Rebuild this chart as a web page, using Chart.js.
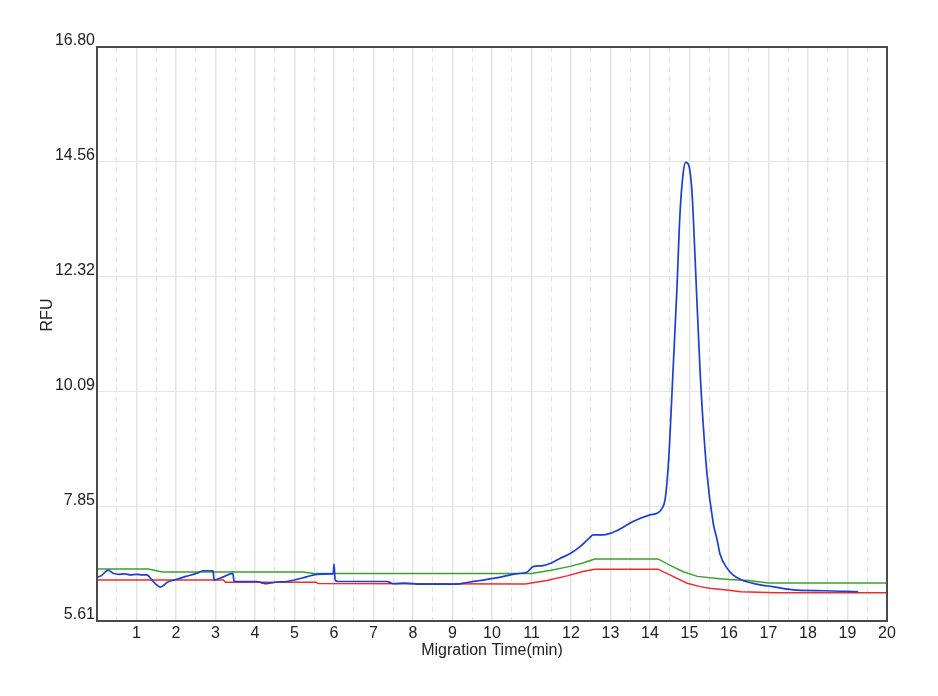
<!DOCTYPE html>
<html lang="en">
<head>
    <meta charset="UTF-8">
    <title>RFU vs Migration Time</title>
    <script src="https://cdn.jsdelivr.net/npm/chart.js"></script>
    <style>
        body { margin: 0; background: #fff; }
    </style>
</head>
<body>
    <canvas id="rfuChart" width="938" height="696"></canvas>

    <script>
        // tick labels
        const yTicks = [5.61, 7.85, 10.09, 12.32, 14.56, 16.80];

        // blue trace
        const blueX = [0, 0.12, 0.28, 0.41, 0.55, 0.7, 0.85, 1.0, 1.15, 1.26, 1.39, 1.5, 1.6, 1.68, 1.77, 2.0, 2.25, 2.53, 2.68, 2.94,
            2.96, 3.2, 3.44, 3.47, 3.6, 4.05, 4.2, 4.3, 4.56, 4.8, 5.06, 5.3, 5.57, 5.95, 5.98, 6.0, 6.03, 6.1, 6.5, 7.0,
            7.34, 7.45, 7.5, 7.8, 8.2, 8.6, 9.1, 9.37, 9.7, 10.03, 10.3, 10.6, 10.88, 11.04, 11.29, 11.5, 11.72, 11.97, 12.23, 12.48,
            12.56, 12.81, 13.16, 13.57, 14.0, 14.18, 14.3, 14.38, 14.45, 14.5, 14.58, 14.68, 14.76, 14.84, 14.9, 14.96, 15.06, 15.14, 15.27, 15.44,
            15.6, 15.7, 15.77, 15.95, 16.1, 16.35, 16.7, 17.1, 17.72, 18.39, 19.27];
        const blueY = [6.46, 6.50, 6.60, 6.54, 6.52, 6.53, 6.51, 6.52, 6.51, 6.51, 6.41, 6.32, 6.27, 6.30, 6.36, 6.42, 6.48, 6.54, 6.59, 6.59,
            6.41, 6.47, 6.54, 6.38, 6.38, 6.38, 6.35, 6.34, 6.37, 6.38, 6.42, 6.47, 6.52, 6.53, 6.53, 6.72, 6.41, 6.38, 6.38, 6.38,
            6.38, 6.35, 6.34, 6.35, 6.33, 6.33, 6.33, 6.36, 6.40, 6.44, 6.48, 6.53, 6.56, 6.67, 6.69, 6.74, 6.83, 6.92, 7.06, 7.24,
            7.29, 7.29, 7.37, 7.55, 7.68, 7.71, 7.80, 7.97, 8.50, 9.14, 10.44, 12.06, 13.56, 14.34, 14.55, 14.53, 14.01, 12.71, 10.44, 8.50,
            7.52, 7.19, 6.92, 6.64, 6.51, 6.40, 6.33, 6.28, 6.21, 6.20, 6.18];

        // green trace
        const greenX = [0, 1.3, 1.65, 5.2, 5.5, 11.0, 11.5, 12.0, 12.3, 12.6, 14.2, 14.5, 14.84, 15.2, 15.7, 16.0, 16.5, 17.0, 20];
        const greenY = [6.625, 6.625, 6.566, 6.566, 6.537, 6.537, 6.60, 6.68, 6.74, 6.82, 6.82, 6.70, 6.57, 6.48, 6.44, 6.42, 6.40, 6.35, 6.35];

        // red trace
        const redX = [0, 3.2, 3.25, 5.55, 5.6, 10.84, 11.39, 11.9, 12.3, 12.6, 14.2, 14.5, 14.94, 15.27, 15.5, 16.0, 16.3, 17.2, 20];
        const redY = [6.41, 6.41, 6.365, 6.365, 6.34, 6.33, 6.40, 6.49, 6.575, 6.62, 6.62, 6.51, 6.345, 6.28, 6.25, 6.21, 6.18, 6.16, 6.16];

        const toPoints = (xs, ys) => xs.map((x, i) => ({ x: x, y: ys[i] }));
        const FONT = "'Liberation Sans', Arial, sans-serif";

        // 테두리 박스 + RFU 제목
        const framePlugin = {
            id: 'frame',
            afterDraw(chart) {
                const { ctx, chartArea: a } = chart;
                ctx.save();
                ctx.strokeStyle = '#4a4a4a';
                ctx.lineWidth = 2;
                ctx.strokeRect(a.left, a.top, a.right - a.left, a.bottom - a.top);
                ctx.translate(48, 315);
                ctx.rotate(-Math.PI / 2);
                ctx.fillStyle = '#222';
                ctx.font = "16px " + FONT;
                ctx.textAlign = 'center';
                ctx.textBaseline = 'middle';
                ctx.fillText('RFU', 0, 0);
                ctx.restore();
            }
        };

        new Chart(document.getElementById('rfuChart').getContext('2d'), {
            type: 'line',
            data: {
                datasets: [
                    { label: 'Blue', data: toPoints(blueX, blueY), borderColor: '#1d3ed2', borderWidth: 1.7, cubicInterpolationMode: 'monotone' },
                    { label: 'Green', data: toPoints(greenX, greenY), borderColor: '#3f9f2f', borderWidth: 1.5 },
                    { label: 'Red', data: toPoints(redX, redY), borderColor: '#f02b2b', borderWidth: 1.5 }
                ]
            },
            options: {
                responsive: false,
                animation: false,
                devicePixelRatio: 1,
                elements: { point: { radius: 0 }, line: { tension: 0 } },
                layout: { padding: { left: 0, right: 51, top: 47, bottom: 0 } },
                plugins: {
                    legend: { display: false },
                    tooltip: { enabled: false }
                },
                scales: {
                    x: {
                        type: 'linear',
                        min: 0,
                        max: 20,
                        afterFit: s => { s.height = 75; },
                        ticks: {
                            stepSize: 0.5,
                            autoSkip: false,
                            maxRotation: 0,
                            padding: 3,
                            color: '#222',
                            font: { family: FONT, size: 16 },
                            callback: v => (Number.isInteger(v) && v > 0) ? String(v) : ''
                        },
                        grid: {
                            drawTicks: false,
                            color: c => Number.isInteger(c.tick.value) ? '#e4e4e4' : '#e2e2e2',
                            lineWidth: c => Number.isInteger(c.tick.value) ? 1.5 : 1
                        },
                        border: {
                            display: false,
                            dash: c => (c.tick && !Number.isInteger(c.tick.value)) ? [5, 5] : []
                        },
                        title: {
                            display: true,
                            text: 'Migration Time(min)',
                            color: '#222',
                            font: { family: FONT, size: 16 },
                            padding: { top: 0, bottom: 36 }
                        }
                    },
                    y: {
                        min: 5.61,
                        max: 16.80,
                        afterFit: s => { s.width = 97; },
                        afterBuildTicks: s => { s.ticks = yTicks.map(v => ({ value: v })); },
                        ticks: {
                            padding: 2,
                            labelOffset: -6,
                            color: '#222',
                            font: { family: FONT, size: 16 },
                            callback: v => Number(v).toFixed(2)
                        },
                        grid: { drawTicks: false, color: '#e6e6e6', lineWidth: 1 },
                        border: { display: false }
                    }
                }
            },
            plugins: [framePlugin]
        });
    </script>
</body>
</html>
